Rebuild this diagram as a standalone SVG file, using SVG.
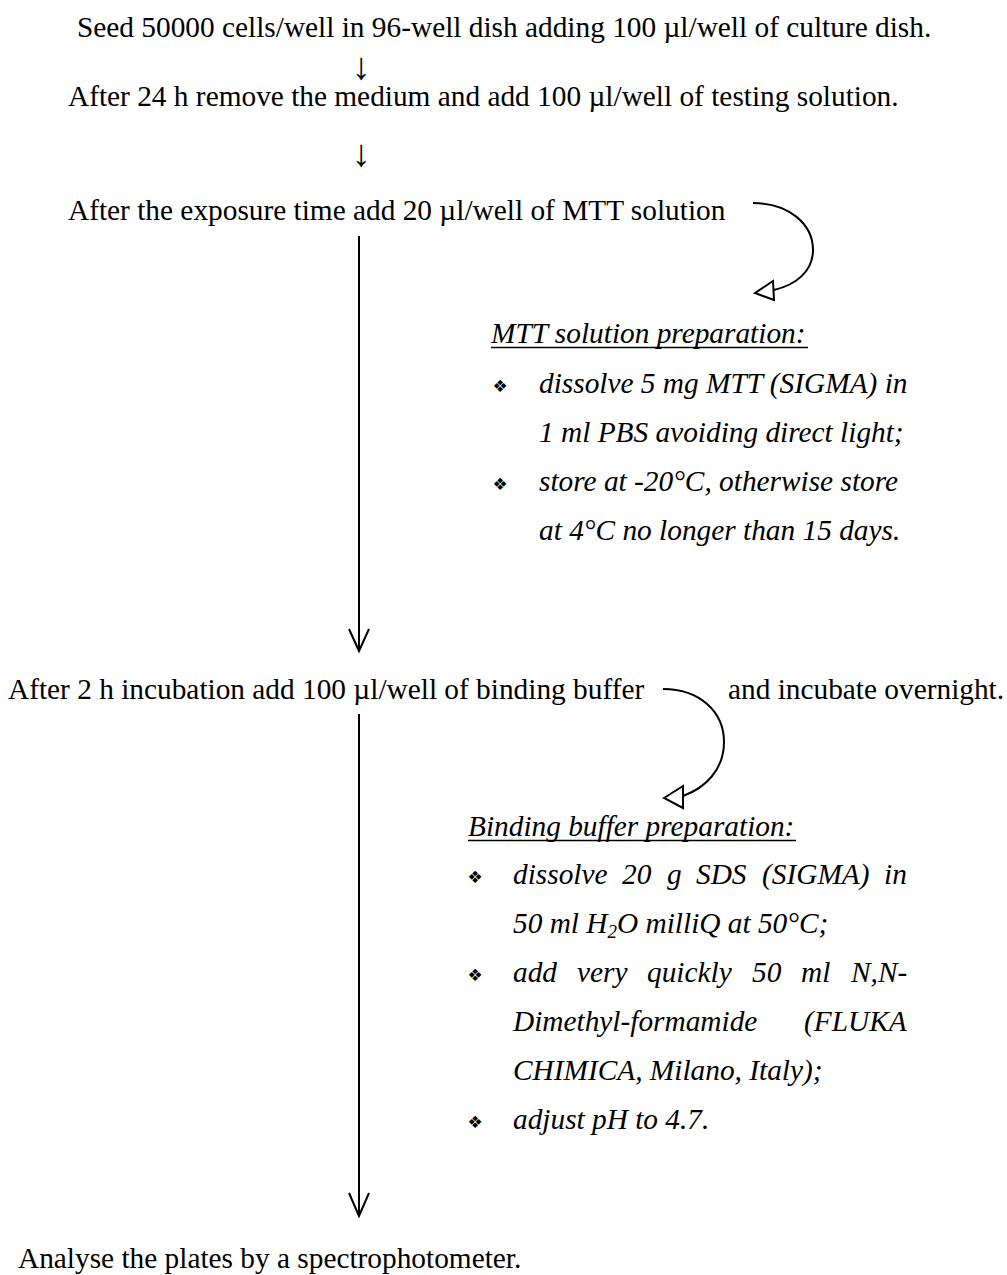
<svg xmlns="http://www.w3.org/2000/svg" width="1007" height="1275" viewBox="0 0 1007 1275">
<style>
  .t { font-family: "Liberation Serif", "Times New Roman", serif; font-size: 29.33px; fill: #000; }
  .i { font-family: "Liberation Serif", "Times New Roman", serif; font-size: 29.33px; font-style: italic; fill: #000; }
  .b { font-family: "DejaVu Sans", sans-serif; font-size: 17px; fill: #000; }
  .ar { font-family: "Liberation Serif", "Times New Roman", serif; font-size: 38px; fill: #000; }
  .ln { stroke: #000; stroke-width: 2; fill: none; }
  .tri { stroke: #000; stroke-width: 2; fill: #fff; stroke-linejoin: miter; }
</style>
<rect width="1007" height="1275" fill="#fff"/>

<g id="step1"><text class="t" x="77" y="37">Seed 50000 cells/well in 96-well dish adding 100 µl/well of culture dish.</text></g>
<g id="step2"><text class="t" x="68" y="106">After 24 h remove the medium and add 100 µl/well of testing solution.</text></g>
<g id="step3"><text class="t" x="68" y="220">After the exposure time add 20 µl/well of MTT solution</text></g>

<g id="mtt-prep">
  <text class="i" x="491" y="343">MTT solution preparation:</text>
  <line x1="491" y1="347.5" x2="808" y2="347.5" stroke="#000" stroke-width="1.5"/>
  <text class="b" x="500" y="392" text-anchor="middle">❖</text>
  <text class="i" x="539" y="393">dissolve 5 mg MTT (SIGMA) in</text>
  <text class="i" x="539" y="442">1 ml PBS avoiding direct light;</text>
  <text class="b" x="500" y="490" text-anchor="middle">❖</text>
  <text class="i" x="539" y="491">store at -20°C, otherwise store</text>
  <text class="i" x="539" y="540">at 4°C no longer than 15 days.</text>
</g>

<g id="step4">
  <text class="t" x="8" y="699">After 2 h incubation add 100 µl/well of binding buffer</text>
  <text class="t" x="728" y="699">and incubate overnight.</text>
</g>

<g id="binding-prep">
  <text class="i" x="468" y="836">Binding buffer preparation:</text>
  <line x1="468" y1="840.5" x2="796" y2="840.5" stroke="#000" stroke-width="1.5"/>
  <text class="b" x="475" y="883" text-anchor="middle">❖</text>
  <text class="i" y="884"><tspan x="513">dissolve</tspan><tspan x="622">20</tspan><tspan x="667">g</tspan><tspan x="696">SDS</tspan><tspan x="762">(SIGMA)</tspan><tspan x="884">in</tspan></text>
  <text class="i" x="513" y="933">50 ml H<tspan font-size="19" dy="5">2</tspan><tspan dy="-5">O milliQ at 50°C;</tspan></text>
  <text class="b" x="475" y="981" text-anchor="middle">❖</text>
  <text class="i" y="982"><tspan x="513">add</tspan><tspan x="577">very</tspan><tspan x="647">quickly</tspan><tspan x="752">50</tspan><tspan x="801">ml</tspan><tspan x="851">N,N-</tspan></text>
  <text class="i" y="1031"><tspan x="513">Dimethyl-formamide</tspan><tspan x="804">(FLUKA</tspan></text>
  <text class="i" x="513" y="1080">CHIMICA, Milano, Italy);</text>
  <text class="b" x="475" y="1128" text-anchor="middle">❖</text>
  <text class="i" x="513" y="1129">adjust pH to 4.7.</text>
</g>

<g id="step5"><text class="t" x="18" y="1268">Analyse the plates by a spectrophotometer.</text></g>

<g id="connectors">
  <text class="ar" x="361" y="79" text-anchor="middle">↓</text>
  <text class="ar" x="361" y="166" text-anchor="middle">↓</text>
  <line class="ln" x1="359" y1="236" x2="359" y2="651"/>
  <polyline class="ln" points="349,629 359,651 369,629"/>
  <path class="ln" d="M753,203 C790,203 813,225 813,250 C813,272 795,285 774,290"/>
  <polygon class="tri" points="755,293 773,281 774,300"/>
  <line class="ln" x1="359" y1="714" x2="359" y2="1216"/>
  <polyline class="ln" points="349,1193 359,1216 369,1193"/>
  <path class="ln" d="M663,689 C700,689 724,712 724,742 C724,770 705,788 683,796"/>
  <polygon class="tri" points="664,798 683,786 683,808"/>
</g>
</svg>
